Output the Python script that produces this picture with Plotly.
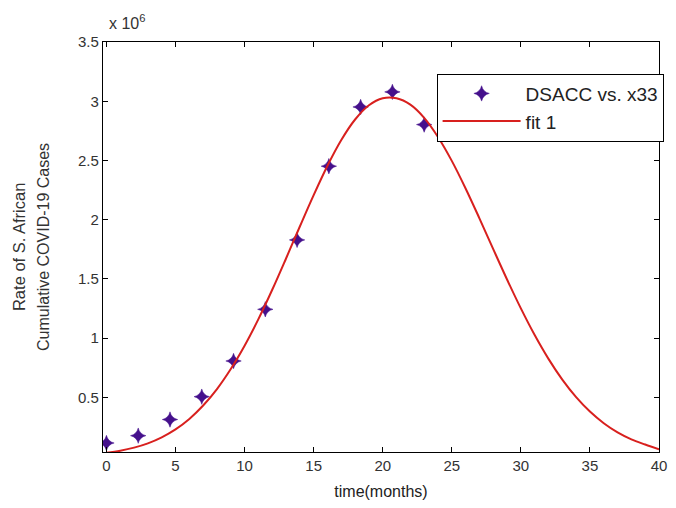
import plotly.graph_objects as go

# Data (values in units of 10^6 cases)
data_x = [0, 2.3, 4.6, 6.9, 9.2, 11.5, 13.8, 16.1, 18.4, 20.7, 23.0]
data_y = [0.116, 0.178, 0.314, 0.507, 0.808, 1.244, 1.83, 2.452, 2.952, 3.079, 2.803]

fit_x = list(range(0, 41))
fit_y = [0.033, 0.051, 0.077, 0.113, 0.164, 0.231, 0.319, 0.432, 0.571, 0.740,
         0.937, 1.161, 1.409, 1.673, 1.943, 2.208, 2.456, 2.673, 2.846, 2.966,
         3.025, 3.025, 2.971, 2.860, 2.699, 2.497, 2.264, 2.012, 1.752, 1.496,
         1.252, 1.027, 0.826, 0.651, 0.503, 0.381, 0.283, 0.206, 0.147, 0.103,
         0.062]

x_ticks = [0, 5, 10, 15, 20, 25, 30, 35, 40]
y_ticks = [0.5, 1, 1.5, 2, 2.5, 3, 3.5]
y_tick_text = ["0.5", "1", "1.5", "2", "2.5", "3", "3.5"]

FONT = "Liberation Sans, Arial, sans-serif"

fig = go.Figure()
fig.add_trace(go.Scatter(
    x=data_x, y=data_y, mode="markers", name="DSACC vs. x33",
    marker=dict(symbol="star-diamond", size=11, color="#45108C",
                line=dict(width=0.5, color="#45108C")),
))
fig.add_trace(go.Scatter(
    x=fit_x, y=fit_y, mode="lines", name="fit 1",
    line=dict(color="#D8201E", width=2, shape="spline"),
))

axis_common = dict(
    showline=True, linecolor="black", linewidth=1.2, mirror="ticks",
    ticks="inside", ticklen=5, tickcolor="black", showgrid=False,
    zeroline=False, tickfont=dict(family=FONT, size=15, color="#333333"),
)

fig.update_layout(
    width=676, height=508,
    margin=dict(l=103, r=9, t=42, b=56),
    paper_bgcolor="white", plot_bgcolor="white",
    font=dict(family=FONT, color="#222222"),
    xaxis=dict(range=[-0.25, 40], tickvals=x_ticks,
               title=dict(text="time(months)", font=dict(family=FONT, size=16, color="#222222"), standoff=12),
               **axis_common),
    yaxis=dict(range=[0.04, 3.5], tickvals=y_ticks, ticktext=y_tick_text, **axis_common),
    legend=dict(x=0.6, y=0.923, xanchor="left", yanchor="top",
                bgcolor="white", bordercolor="black", borderwidth=1,
                font=dict(family=FONT, size=19, color="#222222"),
                itemwidth=78, tracegroupgap=0),
    showlegend=True,
)

fig.add_annotation(text="x 10<sup>6</sup>", xref="paper", yref="paper",
                   x=0.008, y=1.02, xanchor="left", yanchor="bottom",
                   showarrow=False, font=dict(family=FONT, size=16, color="#333333"))
fig.add_annotation(text="Rate of S. African", xref="paper", yref="paper",
                   x=-0.151, y=0.5, xanchor="center", yanchor="middle", textangle=-90,
                   showarrow=False, font=dict(family=FONT, size=16.5, color="#333333"))
fig.add_annotation(text="Cumulative COVID-19 Cases", xref="paper", yref="paper",
                   x=-0.108, y=0.5, xanchor="center", yanchor="middle", textangle=-90,
                   showarrow=False, font=dict(family=FONT, size=16, color="#333333"))

fig.write_html("out.html")
